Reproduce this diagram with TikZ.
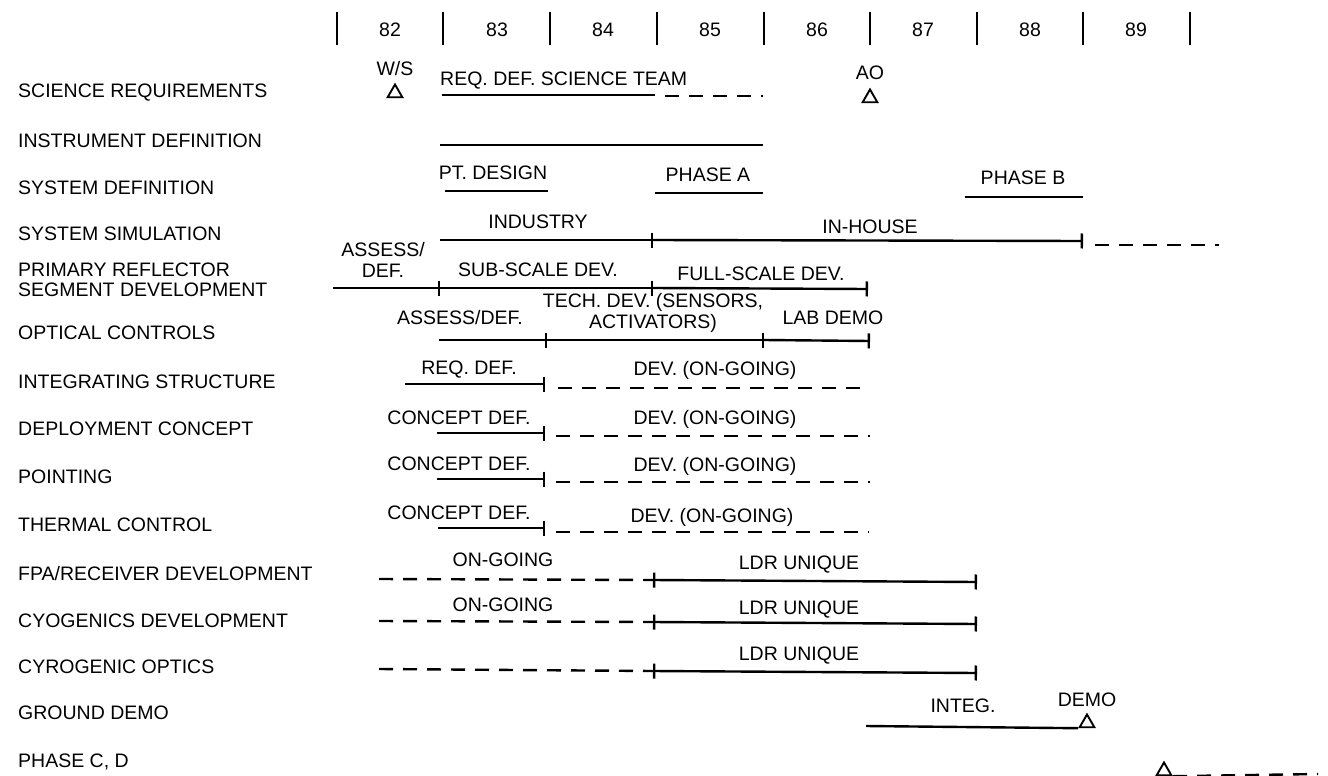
\documentclass[tikz,border=0pt]{standalone}
\usepackage{fontspec}
\setmainfont{Liberation Sans}
\usetikzlibrary{arrows.meta, shapes.geometric}
\tikzset{
  lbl/.style={inner sep=0pt, text height=14pt, text depth=0pt, font=\fontsize{19.5}{21}\selectfont},
  rowlbl/.style={lbl, anchor=west},
  twoline/.style={inner sep=0pt, align=center, anchor=north, font=\fontsize{19.5}{21}\selectfont},
  bar/.style={line width=2.4pt},
  future/.style={bar, dash pattern=on 14pt off 10pt},
  tickend/.style={-{Bar[width=15pt]}},
  tickboth/.style={{Bar[width=15pt]}-{Bar[width=15pt]}},
  yeartick/.style={line width=2.2pt},
  mile/.style={regular polygon, regular polygon sides=3, draw, line width=1.9pt, minimum size=17pt, inner sep=0pt}
}

\begin{document}
\begin{tikzpicture}[x=1pt, y=-1pt]
\useasboundingbox (0,0) rectangle (1328,776);

% year scale
\coordinate (b82) at (337,12);
\coordinate (b83) at (443,12);
\coordinate (b84) at (550,12);
\coordinate (b85) at (657,12);
\coordinate (b86) at (764,12);
\coordinate (b87) at (870,12);
\coordinate (b88) at (977,12);
\coordinate (b89) at (1083,12);
\coordinate (b90) at (1190,12);
\draw[yeartick] (b82) -- ++(0,33);
\draw[yeartick] (b83) -- ++(0,33);
\draw[yeartick] (b84) -- ++(0,33);
\draw[yeartick] (b85) -- ++(0,33);
\draw[yeartick] (b86) -- ++(0,33);
\draw[yeartick] (b87) -- ++(0,33);
\draw[yeartick] (b88) -- ++(0,33);
\draw[yeartick] (b89) -- ++(0,33);
\draw[yeartick] (b90) -- ++(0,33);
\node[lbl] (y82) at (390,30) {82};
\node[lbl] (y83) at (497,30) {83};
\node[lbl] (y84) at (603,30) {84};
\node[lbl] (y85) at (710,30) {85};
\node[lbl] (y86) at (817,30) {86};
\node[lbl] (y87) at (923,30) {87};
\node[lbl] (y88) at (1030,30) {88};
\node[lbl] (y89) at (1136,30) {89};

% activity names
\node[rowlbl] (sci) at (18,90) {SCIENCE REQUIREMENTS};
\node[rowlbl] (instr) at (18,140) {INSTRUMENT DEFINITION};
\node[rowlbl] (sysdef) at (18,187) {SYSTEM DEFINITION};
\node[rowlbl] (syssim) at (18,233) {SYSTEM SIMULATION};
\node[rowlbl] (refl) at (18,269) {PRIMARY REFLECTOR};
\node[rowlbl] (segdev) at (18,289) {SEGMENT DEVELOPMENT};
\node[rowlbl] (optc) at (18,332) {OPTICAL CONTROLS};
\node[rowlbl] (integ) at (18,381) {INTEGRATING STRUCTURE};
\node[rowlbl] (deploy) at (18,428) {DEPLOYMENT CONCEPT};
\node[rowlbl] (point) at (18,476) {POINTING};
\node[rowlbl] (therm) at (18,524) {THERMAL CONTROL};
\node[rowlbl] (fpa) at (18,573) {FPA/RECEIVER DEVELOPMENT};
\node[rowlbl] (cryo) at (18,620) {CYOGENICS DEVELOPMENT};
\node[rowlbl] (cropt) at (18,666) {CYROGENIC OPTICS};
\node[rowlbl] (ground) at (18,712) {GROUND DEMO};
\node[rowlbl] (phcd) at (18,760) {PHASE C, D};

% science requirements
\node[lbl] (ws) at (395,68) {W/S};
\node[mile] (wstri) at (395,93) {};
\node[lbl, anchor=west] (sciteam) at (440,78) {REQ. DEF. SCIENCE TEAM};
\node[lbl] (ao) at (870,72) {AO};
\node[mile] (aotri) at (870,98) {};
\coordinate (s1a) at (442,95);
\coordinate (s1b) at (655,95);
\coordinate (s1c) at (665,96);
\coordinate (s1d) at (763,96);
\draw[bar] (s1a) -- (s1b);
\draw[future] (s1c) -- (s1d);

% instrument definition
\coordinate (s2a) at (440,145);
\coordinate (s2b) at (763,145);
\draw[bar] (s2a) -- (s2b);

% system definition
\node[lbl] (ptdes) at (493,172) {PT. DESIGN};
\node[lbl] (pha) at (708,174) {PHASE A};
\node[lbl] (phb) at (1023,177) {PHASE B};
\coordinate (s3a) at (445,191);
\coordinate (s3b) at (548,191);
\coordinate (s3c) at (655,193);
\coordinate (s3d) at (763,193);
\coordinate (s3e) at (965,197);
\coordinate (s3f) at (1083,197);
\draw[bar] (s3a) -- (s3b);
\draw[bar] (s3c) -- (s3d);
\draw[bar] (s3e) -- (s3f);

% system simulation
\node[lbl] (indus) at (538,221) {INDUSTRY};
\node[lbl] (inhouse) at (870,226) {IN-HOUSE};
\coordinate (s4a) at (440,240);
\coordinate (s4b) at (653,240);
\coordinate (s4c) at (1083,241);
\coordinate (s4d) at (1095,245);
\coordinate (s4e) at (1219,245);
\draw[bar, tickend] (s4a) -- (s4b);
\draw[bar, tickend] (s4b) -- (s4c);
\draw[future] (s4d) -- (s4e);

% primary reflector
\node[twoline] (assess5) at (383,242) {ASSESS/\\DEF.};
\node[lbl] (subsc) at (538,269) {SUB-SCALE DEV.};
\node[lbl] (fullsc) at (761,273) {FULL-SCALE DEV.};
\coordinate (s5a) at (333,288);
\coordinate (s5b) at (440,288);
\coordinate (s5c) at (653,288);
\coordinate (s5d) at (868,289);
\draw[bar, tickend] (s5a) -- (s5b);
\draw[bar, tickend] (s5b) -- (s5c);
\draw[bar, tickend] (s5c) -- (s5d);

% optical controls
\node[lbl] (assess6) at (460,317) {ASSESS/DEF.};
\node[twoline] (techdev) at (653,293) {TECH. DEV. (SENSORS,\\ACTIVATORS)};
\node[lbl] (labdemo) at (833,317) {LAB DEMO};
\coordinate (s6a) at (439,340);
\coordinate (s6b) at (547,340);
\coordinate (s6c) at (764,340);
\coordinate (s6d) at (870,341);
\draw[bar, tickend] (s6a) -- (s6b);
\draw[bar, tickend] (s6b) -- (s6c);
\draw[bar, tickend] (s6c) -- (s6d);

% integrating structure
\node[lbl] (reqdef7) at (469,367) {REQ. DEF.};
\node[lbl] (dev7) at (715,368) {DEV. (ON-GOING)};
\coordinate (s7a) at (405,384);
\coordinate (s7b) at (545,384);
\coordinate (s7c) at (558,388);
\coordinate (s7d) at (870,388);
\draw[bar, tickend] (s7a) -- (s7b);
\draw[future] (s7c) -- (s7d);

% deployment concept
\node[lbl] (cdef8) at (459,417) {CONCEPT DEF.};
\node[lbl] (dev8) at (715,417) {DEV. (ON-GOING)};
\coordinate (s8a) at (437,433);
\coordinate (s8b) at (545,433);
\coordinate (s8c) at (556,436);
\coordinate (s8d) at (870,436);
\draw[bar, tickend] (s8a) -- (s8b);
\draw[future] (s8c) -- (s8d);

% pointing
\node[lbl] (cdef9) at (459,463) {CONCEPT DEF.};
\node[lbl] (dev9) at (715,464) {DEV. (ON-GOING)};
\coordinate (s9a) at (437,479);
\coordinate (s9b) at (545,479);
\coordinate (s9c) at (556,482);
\coordinate (s9d) at (870,482);
\draw[bar, tickend] (s9a) -- (s9b);
\draw[future] (s9c) -- (s9d);

% thermal control
\node[lbl] (cdef10) at (459,512) {CONCEPT DEF.};
\node[lbl] (dev10) at (712,515) {DEV. (ON-GOING)};
\coordinate (s10a) at (438,528);
\coordinate (s10b) at (545,528);
\coordinate (s10c) at (556,532);
\coordinate (s10d) at (869,532);
\draw[bar, tickend] (s10a) -- (s10b);
\draw[future] (s10c) -- (s10d);

% fpa / receiver
\node[lbl] (ongo11) at (503,559) {ON-GOING};
\node[lbl] (ldr11) at (799,562) {LDR UNIQUE};
\coordinate (s11a) at (379,579);
\coordinate (s11b) at (653,580);
\coordinate (s11c) at (977,582);
\draw[future] (s11a) -- (s11b);
\draw[bar, tickboth] (s11b) -- (s11c);

% cryogenics
\node[lbl] (ongo12) at (503,604) {ON-GOING};
\node[lbl] (ldr12) at (799,607) {LDR UNIQUE};
\coordinate (s12a) at (379,621);
\coordinate (s12b) at (653,622);
\coordinate (s12c) at (977,624);
\draw[future] (s12a) -- (s12b);
\draw[bar, tickboth] (s12b) -- (s12c);

% cryogenic optics
\node[lbl] (ldr13) at (799,653) {LDR UNIQUE};
\coordinate (s13a) at (379,669);
\coordinate (s13b) at (653,671);
\coordinate (s13c) at (977,673);
\draw[future] (s13a) -- (s13b);
\draw[bar, tickboth] (s13b) -- (s13c);

% ground demo
\node[lbl] (integ14) at (963,705) {INTEG.};
\node[lbl] (demo14) at (1087,699) {DEMO};
\node[mile] (demotri) at (1087,723) {};
\coordinate (s14a) at (866,726);
\draw[bar] (s14a) -- (demotri.corner 2);

% phase c, d
\node[mile] (cdtri) at (1164,771) {};
\coordinate (s15a) at (1318,774);
\draw[future] (cdtri.corner 3) -- (s15a);
\end{tikzpicture}
\end{document}
